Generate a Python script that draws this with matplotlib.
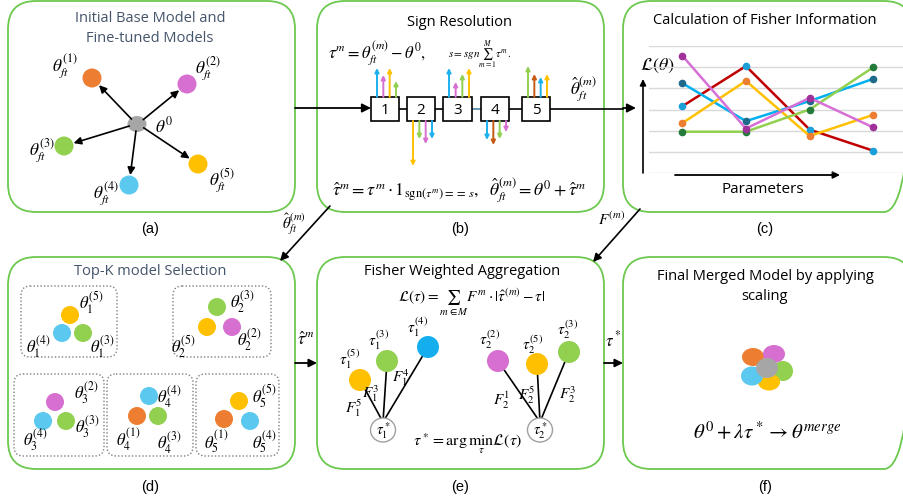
import matplotlib.pyplot as plt
from matplotlib.patches import FancyBboxPatch, Ellipse, Circle
import numpy as np

plt.rcParams['font.family'] = ['Open Sans', 'DejaVu Sans']
plt.rcParams['mathtext.fontset'] = 'stix'

# model colours (0 = base model)
COL = {0: '#a6a6a6', 1: '#ed7d31', 2: '#d66fcf', 3: '#92d050', 4: '#5bc8f0', 5: '#ffc000'}
ARROW_COL = {1: '#c55a11', 2: '#d66fcf', 3: '#92d050', 4: '#1cb0ee', 5: '#ffc000'}
EDGE = '#6cc94e'
TITLE_DARK = '#44546a'

# sign resolution: entries of each task vector per parameter (model id, signed size)
sign_models = [[4, 2, 5, 3], [5, 3, 2, 4], [4, 2, 3, 5], [4, 1, 3, 2], [3, 1, 4, 5]]
sign_values = [[29, 22, 29, 16], [-45, -18, -23, -18], [29, 15, 23, 29],
               [-19, -24, -18, -11], [31, 23, 20, 23]]

# fisher information curves over parameters
params = [0, 1, 2, 3]
loss_red = [3.15, 5.05, 2.05, 1.05]
loss_blue = [4.25, 2.45, 3.40, 4.45]
loss_yellow = [2.35, 4.35, 1.75, 2.75]
loss_green = [1.95, 1.95, 3.00, 5.00]
loss_pink = [5.55, 2.10, 3.55, 2.15]

fig = plt.figure(figsize=(9.04, 5.02), dpi=100)
ax = fig.add_axes([0, 0, 1, 1])
ax.set_xlim(0, 904)
ax.set_ylim(502, 0)
ax.axis('off')


def panel(x0, y0, x1, y1):
    ax.add_patch(FancyBboxPatch((x0, y0), x1 - x0, y1 - y0,
                                boxstyle='round,pad=0,rounding_size=28',
                                ec=EDGE, fc='none', lw=1.3))


def dotted(x0, y0, x1, y1):
    ax.add_patch(FancyBboxPatch((x0, y0), x1 - x0, y1 - y0,
                                boxstyle='round,pad=0,rounding_size=9',
                                ec='#7f7f7f', fc='none', lw=1.0, ls=(0, (1, 1.5))))


def arrow(x0, y0, x1, y1, lw=1.2, ms=12, color='black'):
    ax.annotate('', xy=(x1, y1), xytext=(x0, y0),
                arrowprops=dict(arrowstyle='-|>', color=color, lw=lw,
                                mutation_scale=ms, shrinkA=0, shrinkB=0))


def txt(x, y, s, size=10, color='black', **kw):
    ax.text(x, y, s, fontsize=size, color=color, ha='center', va='center', **kw)


def dot(x, y, m, r=9.5):
    ax.add_patch(Circle((x, y), r, color=COL[m], lw=0, zorder=3))


# ---------- panels ----------
panel(8, 2, 295, 213)
panel(317, 2, 604, 213)
panel(623, 2, 912, 213)
panel(8, 258, 295, 470)
panel(317, 258, 604, 470)
panel(623, 258, 912, 470)

for lab, x in zip(['(a)', '(b)', '(c)'], [150, 460, 765]):
    txt(x, 229, lab, 10.5, family='Liberation Sans')
for lab, x in zip(['(d)', '(e)', '(f)'], [150, 460, 765]):
    txt(x, 487, lab, 10.5, family='Liberation Sans')

# ---------- (a) base model and fine-tuned models ----------
txt(150, 18, 'Initial Base Model and', 10.5, TITLE_DARK)
txt(150, 39, 'Fine-tuned Models', 10.5, TITLE_DARK)
cx, cy = 137, 125
ax.add_patch(Ellipse((cx, cy), 19, 16, color=COL[0], lw=0, zorder=3))
ft_pos = {1: (92, 79), 2: (187, 85), 3: (64, 147), 4: (129, 186), 5: (198, 165)}
ft_lab = {1: (65, 66), 2: (208, 69), 3: (42, 151), 4: (106, 194), 5: (222, 181)}
for m, (x, y) in ft_pos.items():
    dot(x, y, m)
    d = np.hypot(x - cx, y - cy)
    ux, uy = (x - cx) / d, (y - cy) / d
    arrow(cx + ux * 8, cy + uy * 7, x - ux * 10, y - uy * 10, lw=1.2, ms=11)
    lx, ly = ft_lab[m]
    txt(lx, ly, r'$\theta_{ft}^{(%d)}$' % m, 12.5)
txt(164, 126, r'$\theta^0$', 12.5)

# ---------- (b) sign resolution ----------
txt(460, 22, 'Sign Resolution', 10.5)
ax.text(328, 53, r'$\tau^m = \theta_{ft}^{(m)} - \theta^0,$', fontsize=12, va='center', ha='left')
ax.text(448, 55, r'$s = sgn\sum_{m=1}^{M}\tau^m.$', fontsize=8, va='center', ha='left')

box_x = [(371, 399), (407, 435), (443, 472), (481, 509), (522, 550)]
by0, by1 = 98, 122
bym = (by0 + by1) / 2
arrow(295, bym - 1, 371, bym - 1, lw=1.3, ms=13)
for i in range(4):
    ax.plot([box_x[i][1], box_x[i + 1][0]], [bym, bym],
            color='#4a86a8' if i == 2 else 'black', lw=1.2, zorder=1)
ax.plot([550, 623], [bym, bym], color='black', lw=1.2)
arrow(623, bym - 1, 636, bym - 1, lw=1.3, ms=13)
for i, (x0, x1) in enumerate(box_x):
    ax.add_patch(plt.Rectangle((x0, by0), x1 - x0, by1 - by0, fc='white', ec='black', lw=1.2, zorder=3))
    txt((x0 + x1) / 2, bym, str(i + 1), 11, zorder=4)
    n = len(sign_models[i])
    xs = np.linspace(x0 + 6, x1 - 3, n)
    for xa, m, v in zip(xs, sign_models[i], sign_values[i]):
        ys = by0 if v > 0 else by1
        arrow(xa, ys, xa, ys - v, lw=1.4, ms=6, color=ARROW_COL[m])
txt(583, 89, r'$\hat{\theta}_{ft}^{(m)}$', 12.5)
txt(459, 190, r'$\hat{\tau}^m = \tau^m\cdot 1_{\mathrm{sgn}(\tau^m){=}{=}\,s},\ \ \hat{\theta}_{ft}^{(m)} = \theta^0 + \hat{\tau}^m$', 12.8)

# ---------- (c) fisher information ----------
txt(765, 20, 'Calculation of Fisher Information', 10.5)
ax2 = fig.add_axes([649 / 904, 1 - 174 / 502, (904 - 649) / 904, (174 - 47) / 502])
ax2.set_xlim(-0.52, 3.48)
ax2.set_ylim(0, 6)
ax2.set_yticks(range(7))
ax2.grid(axis='y', color='#d9d9d9', lw=1.0)
ax2.tick_params(left=False, bottom=False, labelleft=False, labelbottom=False)
for s in ax2.spines.values():
    s.set_visible(False)
ax2.patch.set_alpha(0)
series = [(loss_red, '#c00000', '#1a9fd8'),
          (loss_blue, '#00b0f0', '#1f6a8a'),
          (loss_yellow, '#ffc000', '#ed7d31'),
          (loss_green, '#92d050', '#237a3b'),
          (loss_pink, '#d670d6', '#a0309a')]
for vals, lc, mc in series:
    ax2.plot(params, vals, color=lc, lw=1.8, marker='o', ms=4.5, mfc=mc, mec=mc)
arrow(643, 174, 643, 80, lw=1.2, ms=9)
arrow(675, 176, 840, 176, lw=1.3, ms=10)
txt(657, 66, r'$\mathcal{L}(\theta)$', 13)
txt(763, 190, 'Parameters', 11)

# ---------- links between panels ----------
arrow(330, 207, 280, 262, lw=1.2, ms=12)
txt(294, 224, r'$\hat{\theta}_{ft}^{(m)}$', 11)
arrow(640, 210, 593, 263, lw=1.2, ms=12)
txt(612, 220, r'$F^{(m)}$', 11)
arrow(295, 364, 317, 364, lw=1.3, ms=12)
txt(306, 340, r'$\hat{\tau}^m$', 12)
arrow(604, 364, 623, 364, lw=1.3, ms=12)
txt(613, 340, r'$\tau^*$', 12)

# ---------- (d) top-k selection ----------
txt(150, 272, 'Top-K model Selection', 10.5, TITLE_DARK)
groups = [
    ((21, 287, 117, 358), [(5, 70, 316), (4, 62, 334), (3, 83, 334)],
     [(r'$\theta_1^{(5)}$', 91, 303), (r'$\theta_1^{(4)}$', 38, 347), (r'$\theta_1^{(3)}$', 102, 347)]),
    ((173, 287, 271, 358), [(3, 217, 308), (5, 207, 328), (2, 232, 328)],
     [(r'$\theta_2^{(3)}$', 242, 302), (r'$\theta_2^{(5)}$', 183, 347), (r'$\theta_2^{(2)}$', 249, 340)]),
    ((14, 375, 104, 457), [(2, 55, 403), (4, 43, 422), (3, 66, 422)],
     [(r'$\theta_3^{(2)}$', 86, 393), (r'$\theta_3^{(3)}$', 87, 427), (r'$\theta_3^{(4)}$', 35, 440)]),
    ((107, 375, 193, 457), [(4, 149, 397), (1, 137, 417), (3, 158, 417)],
     [(r'$\theta_4^{(4)}$', 169, 397), (r'$\theta_4^{(1)}$', 128, 440), (r'$\theta_4^{(3)}$', 169, 443)]),
    ((196, 375, 279, 457), [(5, 239, 402), (1, 224, 420), (4, 250, 422)],
     [(r'$\theta_5^{(5)}$', 264, 396), (r'$\theta_5^{(1)}$', 216, 442), (r'$\theta_5^{(4)}$', 264, 442)]),
]
for (x0, y0, x1, y1), dots, labs in groups:
    dotted(x0, y0, x1, y1)
    for m, x, y in dots:
        dot(x, y, m, 9)
    for s, x, y in labs:
        txt(x, y, s, 12)

# ---------- (e) fisher weighted aggregation ----------
txt(462, 272, 'Fisher Weighted Aggregation', 10.5)
txt(472, 302, r'$\mathcal{L}(\tau) = \sum_{m\in M} F^m\cdot|\hat{\tau}^{(m)} - \tau|$', 11)
trees = [
    ((383, 431), [(5, 360, 381), (3, 387, 362), (4, 428, 348)], 1,
     [(r'$\tau_1^{(5)}$', 350, 359), (r'$\tau_1^{(3)}$', 379, 340), (r'$\tau_1^{(4)}$', 418, 327),
      (r'$F_1^5$', 354, 408), (r'$F_1^3$', 371, 394), (r'$F_1^4$', 401, 378)]),
    ((540, 431), [(2, 498, 362), (5, 537, 365), (3, 569, 353)], 2,
     [(r'$\tau_2^{(2)}$', 490, 340), (r'$\tau_2^{(5)}$', 533, 345), (r'$\tau_2^{(3)}$', 568, 330),
      (r'$F_2^1$', 502, 400), (r'$F_2^5$', 527, 395), (r'$F_2^3$', 568, 395)]),
]
for (sx, sy), nodes, k, labs in trees:
    for m, x, y in nodes:
        ax.plot([x, sx], [y, sy - 8], color='black', lw=1.2, zorder=2)
        ax.add_patch(Circle((x, y), 11, color='#14aeef' if m == 4 else COL[m], lw=0, zorder=3))
    ax.add_patch(Ellipse((sx, sy), 25, 24, fc='white', ec='#a0a0a0', lw=1.0, zorder=3))
    txt(sx, sy, r'$\tau_%d^*$' % k, 10.5, zorder=4)
    for s, x, y in labs:
        txt(x, y, s, 11)
txt(468, 444, r'$\tau^* = \arg\min_{\tau}\mathcal{L}(\tau)$', 11.5)

# ---------- (f) merged model ----------
txt(765, 277, 'Final Merged Model by applying', 10.5)
txt(765, 297, 'scaling', 10.5)
petals = [(1, 753, 358, 22, 18), (2, 774, 355, 22, 18), (3, 783, 372, 20, 20),
          (5, 769, 383, 22, 17), (4, 752, 377, 22, 19), (0, 767, 369, 22, 20)]
for m, x, y, w, h in petals:
    ax.add_patch(Ellipse((x, y), w, h, color=COL[m], lw=0, zorder=3))
txt(767, 433, r'$\theta^0 + \lambda\tau^* \rightarrow \theta^{merge}$', 15)

fig.savefig('out.png', dpi=100)
